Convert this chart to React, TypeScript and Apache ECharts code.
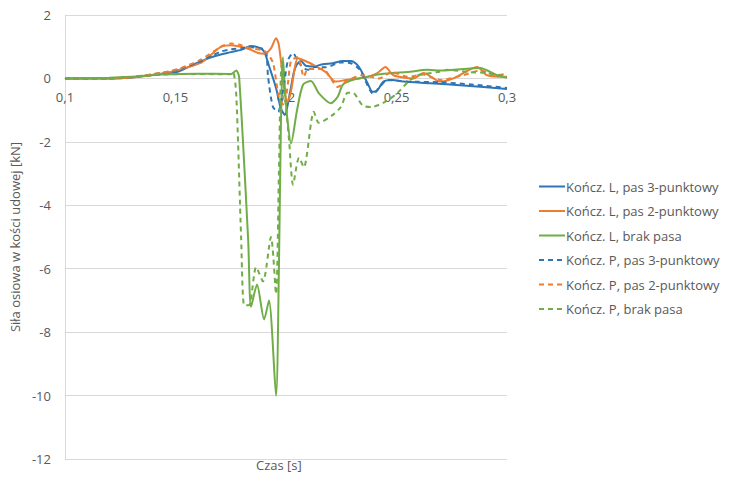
import React, { useEffect, useRef } from "react";
import * as echarts from "echarts";

const seriesNames = [
  "Kończ. L, pas 3-punktowy",
  "Kończ. L, pas 2-punktowy",
  "Kończ. L, brak pasa",
  "Kończ. P, pas 3-punktowy",
  "Kończ. P, pas 2-punktowy",
  "Kończ. P, brak pasa",
];

const xTicks = [0.1, 0.15, 0.2, 0.25, 0.3];
const yTicks = [-12, -10, -8, -6, -4, -2, 0, 2];

const L3 = [
  [0.1, 0], [0.12, 0], [0.13, 0.03], [0.1437, 0.15], [0.1514, 0.22], [0.1586, 0.45],
  [0.1662, 0.67], [0.1752, 0.83], [0.1797, 0.9], [0.1829, 1.0], [0.1842, 1.02],
  [0.1874, 0.98], [0.1901, 0.85], [0.1923, 0.4], [0.1955, -0.3], [0.1977, -0.95],
  [0.1995, -1.15], [0.2014, -0.6], [0.2036, 0.2], [0.205, 0.45], [0.2068, 0.55],
  [0.209, 0.4], [0.2126, 0.38], [0.2167, 0.45], [0.2212, 0.48], [0.2257, 0.55],
  [0.2293, 0.55], [0.232, 0.45], [0.2338, 0.27], [0.2369, -0.15], [0.2392, -0.42],
  [0.2414, -0.37], [0.2441, -0.1], [0.2482, -0.05], [0.2532, -0.1], [0.2653, -0.15],
  [0.2802, -0.22], [0.3, -0.33],
];

const L2 = [
  [0.1, 0], [0.12, 0], [0.13, 0.03], [0.1437, 0.15], [0.1514, 0.27], [0.1617, 0.5],
  [0.1662, 0.75], [0.1707, 1.0], [0.1752, 1.05], [0.1797, 1.0], [0.1842, 0.9],
  [0.1874, 0.8], [0.1901, 0.78], [0.1932, 0.95], [0.1955, 1.27], [0.1968, 1.05],
  [0.1991, -0.27], [0.2005, -0.75], [0.202, -0.5], [0.2054, 0.64], [0.2077, 0.58],
  [0.2126, 0.42], [0.218, 0.2], [0.2225, -0.1], [0.227, -0.05], [0.2324, 0.0],
  [0.2369, 0.05], [0.2414, 0.17], [0.245, 0.36], [0.2486, 0.1], [0.2577, 0.0],
  [0.2622, 0.17], [0.2698, -0.1], [0.2757, 0.0], [0.2865, 0.36], [0.291, 0.1], [0.3, 0.05],
];

const LN = [
  [0.1, 0], [0.12, 0.02], [0.13, 0.05], [0.1437, 0.12], [0.16, 0.15], [0.1752, 0.14],
  [0.1775, 0.25], [0.1788, 0.05], [0.1829, -5.1], [0.1842, -7.2], [0.1869, -6.5],
  [0.1901, -7.6], [0.1923, -7.0], [0.1955, -10.0], [0.1968, -6.0], [0.1977, -1.5],
  [0.1986, 0.67], [0.1995, -0.3], [0.2005, -1.2], [0.2023, -2.05], [0.205, -1.0],
  [0.2077, -0.2], [0.2113, -0.08], [0.2149, -0.47], [0.2203, -0.78], [0.2234, -0.58],
  [0.2257, -0.2], [0.23, -0.05], [0.2369, 0.05], [0.2414, 0.12], [0.2482, 0.17],
  [0.255, 0.2], [0.264, 0.27], [0.27, 0.25], [0.2878, 0.33], [0.2955, 0.1], [0.3, 0.02],
];

const P3 = [
  [0.1, 0], [0.12, 0], [0.13, 0.04], [0.1437, 0.17], [0.1514, 0.28], [0.1617, 0.55],
  [0.1707, 0.85], [0.1752, 0.92], [0.1797, 0.95], [0.1842, 0.98], [0.1887, 0.95],
  [0.191, 0.83], [0.1919, 0.05], [0.1941, -0.9], [0.1964, -1.05], [0.1986, -0.42],
  [0.2009, 0.58], [0.2032, 0.8], [0.2059, 0.48], [0.2099, 0.27], [0.2126, 0.36],
  [0.218, 0.35], [0.2248, 0.5], [0.2293, 0.48], [0.233, 0.3], [0.2351, 0.05],
  [0.2378, -0.35], [0.2396, -0.5], [0.242, -0.3], [0.246, -0.05], [0.255, -0.1],
  [0.27, -0.12], [0.285, -0.2], [0.3, -0.3],
];

const P2 = [
  [0.1, 0], [0.12, 0], [0.13, 0.04], [0.1437, 0.18], [0.1514, 0.3], [0.1617, 0.6],
  [0.1707, 1.0], [0.1752, 1.1], [0.1797, 1.05], [0.1842, 0.95], [0.1887, 0.9],
  [0.191, 0.83], [0.1941, 0.5], [0.1968, -0.58], [0.1991, -0.85], [0.2009, -0.15],
  [0.2023, 0.55], [0.2054, 0.67], [0.2081, 0.05], [0.2099, 0.3], [0.2167, 0.3],
  [0.2203, 0.0], [0.2234, -0.27], [0.228, -0.05], [0.235, 0.1], [0.242, 0.0],
  [0.248, 0.2], [0.255, 0.05], [0.262, 0.12], [0.27, -0.05], [0.28, 0.1],
  [0.288, 0.25], [0.295, 0.1], [0.3, 0.15],
];

const PN = [
  [0.1, 0], [0.12, 0.01], [0.13, 0.04], [0.1437, 0.12], [0.16, 0.14], [0.175, 0.13],
  [0.1761, 0.2], [0.1775, -0.5], [0.1797, -5.0], [0.1811, -7.15], [0.1833, -7.15],
  [0.1865, -5.95], [0.1896, -6.4], [0.1932, -5.0], [0.1955, -6.8], [0.1968, -3.0],
  [0.198, 0.4], [0.1995, -0.5], [0.2014, -1.95], [0.2032, -3.35], [0.2059, -2.5],
  [0.2081, -2.8], [0.2126, -1.05], [0.2149, -1.4], [0.2212, -1.15], [0.2248, -0.9],
  [0.2279, -0.45], [0.2302, -0.45], [0.2347, -0.85], [0.2387, -0.9], [0.2459, -0.7],
  [0.2505, -0.45], [0.2554, -0.1], [0.2595, 0.1], [0.2685, 0.2], [0.273, 0.27],
  [0.2833, 0.2], [0.291, 0.17], [0.3, 0.05],
];

const seriesData = [L3, L2, LN, P3, P2, PN];
const colors = ["#2e75b6", "#ed7d31", "#70ad47", "#2e75b6", "#ed7d31", "#70ad47"];
const dashed = [false, false, false, true, true, true];

const FONT = "'Open Sans', 'Noto Sans', sans-serif";

const GRID_TOP = 15;
const GRID_BOTTOM = 18;
const CHART_H = 477;

export default function App() {
  const ref = useRef<HTMLDivElement>(null);
  useEffect(() => {
    if (!ref.current) return;
    const chart = echarts.init(ref.current, undefined, { renderer: "svg" });
    const yMin = yTicks[0];
    const yMax = yTicks[yTicks.length - 1];
    const gridH = CHART_H - GRID_TOP - GRID_BOTTOM;
    // move the x axis (line + labels) up to where y = 0 lies
    const zeroOffset = -((0 - yMin) / (yMax - yMin)) * gridH;
    chart.setOption({
      animation: false,
      backgroundColor: "#ffffff",
      grid: { left: 63, right: 227, top: GRID_TOP, bottom: GRID_BOTTOM, containLabel: false },
      legend: {
        orient: "vertical",
        left: 533,
        top: 175,
        itemWidth: 26,
        itemHeight: 14,
        itemGap: 11.5,
        data: seriesNames,
        itemStyle: { opacity: 0 },
        textStyle: { color: "#595959", fontSize: 13, fontFamily: FONT, padding: [0, 0, 0, -4] },
      },
      xAxis: {
        type: "value",
        position: "bottom",
        offset: zeroOffset,
        min: xTicks[0],
        max: xTicks[xTicks.length - 1],
        interval: 0.05,
        axisLine: { show: true, onZero: false, lineStyle: { color: "#d9d9d9", width: 1 } },
        axisTick: { show: false },
        splitLine: { show: false },
        axisLabel: {
          color: "#595959",
          fontSize: 13,
          fontFamily: FONT,
          margin: 12,
          formatter: (v: number) => String(Math.round(v * 100) / 100).replace(".", ","),
        },
      },
      yAxis: {
        type: "value",
        min: yMin,
        max: yMax,
        interval: 2,
        axisLine: { show: true, onZero: false, lineStyle: { color: "#d9d9d9" } },
        axisTick: { show: false },
        splitLine: { show: true, lineStyle: { color: "#d9d9d9", width: 1 } },
        axisLabel: { color: "#595959", fontSize: 13, fontFamily: FONT, margin: 14 },
        name: "Siła osiowa w kości udowej [kN]",
        nameLocation: "middle",
        nameGap: 42,
        nameTextStyle: { color: "#595959", fontSize: 13, fontFamily: FONT },
      },
      graphic: [
        {
          type: "text",
          left: 256,
          top: 458,
          style: { text: "Czas [s]", fill: "#595959", font: `13px ${FONT}` },
        },
      ],
      series: seriesData.map((d, i) => ({
        name: seriesNames[i],
        type: "line",
        data: d,
        symbol: "none",
        smooth: 0.25,
        lineStyle: {
          color: colors[i],
          width: 2,
          type: dashed[i] ? [5, 4] : "solid",
        },
        itemStyle: { color: colors[i] },
        z: 2,
      })),
    });
    return () => chart.dispose();
  }, []);
  return <div ref={ref} style={{ width: 734, height: 477, marginLeft: -8, marginTop: -8 }} />;
}
